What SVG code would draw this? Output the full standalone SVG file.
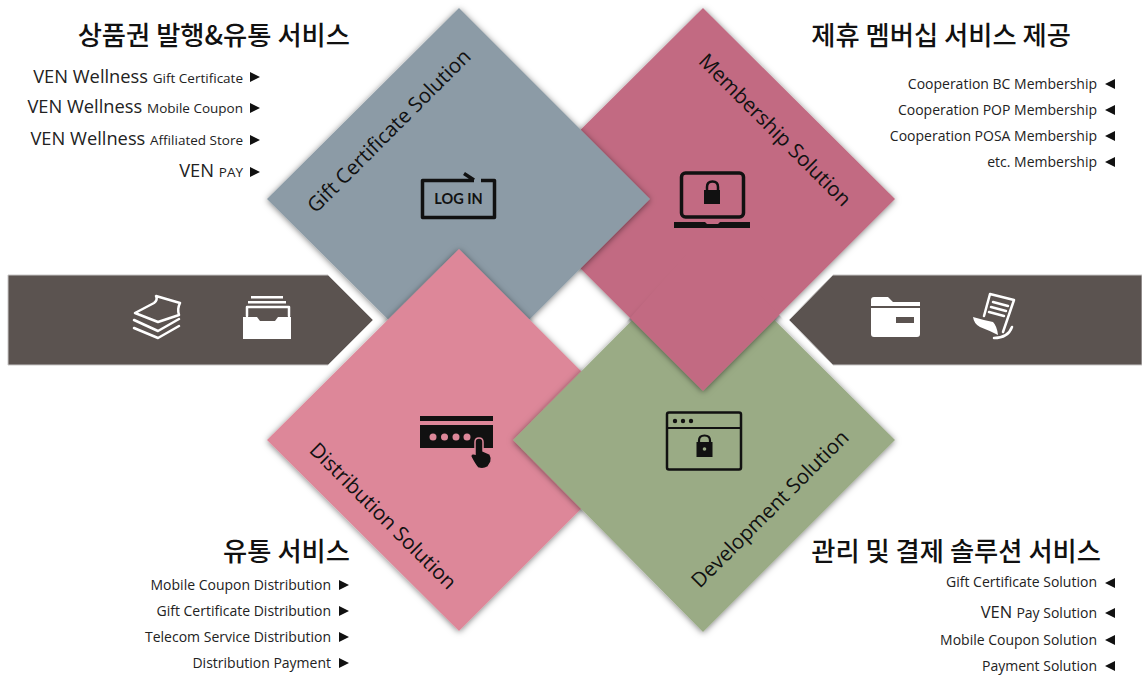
<svg xmlns="http://www.w3.org/2000/svg" width="1142" height="675" viewBox="0 0 1142 675">
<style>
text{font-family:"Open Sans","Noto Sans CJK KR","Noto Sans",sans-serif;fill:#222}
.h{font-family:"Noto Sans CJK KR","Noto Sans",sans-serif;font-size:26.300px;font-weight:500;fill:#111;text-anchor:end}
.l{font-size:14px;text-anchor:end}
.b{font-size:18.300px}
.r{font-size:20.500px;fill:#111;text-anchor:middle}
.bar{fill:#5b5350;stroke:#c9c7c6;stroke-width:1}
.w{fill:#fff}
.ws{fill:none;stroke:#fff;stroke-width:2.500;stroke-linejoin:round;stroke-linecap:round}
.k{fill:none;stroke:#111;stroke-linejoin:round}
.d{filter:url(#sh)}
</style>
<defs>
<filter id="sh" x="-10%" y="-10%" width="120%" height="120%"><feDropShadow dx="0" dy="1" stdDeviation="3" flood-color="#000" flood-opacity=".5"/></filter>
<clipPath id="cc"><polygon points="703,236 808,345 703,450 622,327"/></clipPath>
<polygon id="crim" points="703,8 895,199 703,391 511,199" fill="#c26a82"/>
<polygon id="tri" points="0,-5 10,0 0,5" fill="#111"/>
<polygon id="tl" points="10,-5 0,0 10,5" fill="#111"/>
</defs>
<rect width="1142" height="675" fill="#fff"/>
<g id="bar-left">
<polygon class="bar" points="8,275 328,275 373,320 328,365 8,365"/>
<path class="ws" d="M135,313 L154,303 q4,-3 2,-7 L180,303 q-3,6 -1,12 L158,322 z M134,320 L158,331 L179,319 M134,328 L158,338 L179,326"/>
<path class="w" d="M251,296h32v2.500h-32z M248,301h38v2.500h-38z"/>
<path class="ws" d="M247,316v-9h42v9"/>
<path class="w" d="M243,317h14l3,4h15l3,-4h13v22h-48z"/>
</g>
<g id="bar-right">
<polygon class="bar" points="1142,275 833,275 789,320 833,365 1142,365"/>
<path class="w" d="M871,306v-6q0,-3 3,-3h14l5,5h27v4z M871,308h49v26q0,3 -3,3h-43q-3,0 -3,-3z"/>
<rect x="896" y="317" width="18" height="6" fill="#5b5350"/>
<path class="ws" d="M984,316L990,294L1014,300L1003,332"/>
<path class="ws" stroke-width="1.800" d="M993,302l15,4M991,307l15,4M989,312l15,4"/>
<path class="w" d="M973,317q10,3 20,5q4,4 5,13q-10,-5 -18,-8q-6,-3 -7,-10z"/>
<path class="ws" stroke-width="2" d="M994,338q14,0 18,-11"/>
</g>
<g id="node-membership" class="d"><use href="#crim"/></g>
<g id="node-gift">
<polygon class="d" points="459,8 650,199 459,390 267,199" fill="#8c9ba6"/>
<text class="r" transform="translate(389,131) rotate(-45)" y="7">Gift Certificate Solution</text>
<path class="k" stroke-width="3.500" d="M474,180.500H422.500V217.500H494.500V180.500H481M464,173.500L474,180"/>
<text x="458.500" y="204" text-anchor="middle" style="font-family:Lato,sans-serif;font-size:14.500px;font-weight:700;fill:#111">LOG IN</text>
</g>
<g id="node-distribution">
<polygon class="d" points="459,249 650,440 459,631 267,440" fill="#dd8799"/>
<text class="r" transform="translate(383,516) rotate(45)" y="7">Distribution Solution</text>
<path fill="#111" d="M420,416h73v5h-73z M420,425h73v23h-73z"/>
<g fill="#dd8799"><circle cx="433" cy="437" r="3.500"/><circle cx="444.500" cy="437" r="3.500"/><circle cx="456" cy="437" r="3.500"/><circle cx="467" cy="437" r="3.500"/></g>
<path fill="#111" stroke="#dd8799" stroke-width="1.500" d="M475,442q0,-4 4,-4t4,4v9l7,3q2,3 1,8l-3,5q-5,3 -10,1q-3,-3 -7,-11q-1,-4 4,-3z"/>
</g>
<g id="node-development">
<polygon class="d" points="703,249 895,440 703,632 513,440" fill="#9aab85"/>
<text class="r" transform="translate(770,509) rotate(-45)" y="7">Development Solution</text>
<rect class="k" stroke-width="2.500" x="667" y="412.500" width="74" height="57" rx="2"/>
<path class="k" stroke-width="1.800" d="M667,428H741"/>
<g fill="#111"><circle cx="675" cy="421" r="2.200"/><circle cx="683" cy="421" r="2.200"/><circle cx="691" cy="421" r="2.200"/></g>
<path class="k" stroke-width="2.200" d="M699,443v-2.500q0,-5 5.500,-5t5.500,5v2.500"/>
<rect x="696.500" y="442" width="16" height="15" fill="#111"/>
<circle cx="704.500" cy="449" r="1.800" fill="#9aab85"/>
</g>
<g id="node-membership-front" clip-path="url(#cc)"><use href="#crim" class="d"/></g>
<g id="node-membership-content">
<text class="r" transform="translate(775,130) rotate(45)" y="7">Membership Solution</text>
<rect class="k" stroke-width="3.500" x="681.500" y="173" width="62" height="44" rx="4"/>
<path fill="#111" d="M674,222h31l2,2h11l2,-2h30v6h-76z"/>
<path class="k" stroke-width="2.500" d="M707,191v-4q0,-5.500 5.500,-5.500t5.500,5.500v4"/>
<rect x="704" y="190" width="16" height="14" fill="#111"/>
</g>
<g id="text-gift">
<text class="h" x="350" y="45">상품권 발행&amp;유통 서비스</text>
<text class="l" x="243" y="83"><tspan class="b">VEN Wellness </tspan><tspan font-size="13.500">Gift Certificate</tspan></text>
<text class="l" x="243" y="113"><tspan class="b">VEN Wellness </tspan><tspan font-size="13.500">Mobile Coupon</tspan></text>
<text class="l" x="243" y="145"><tspan class="b">VEN Wellness </tspan><tspan font-size="13.500">Affiliated Store</tspan></text>
<text class="l" x="243" y="177"><tspan class="b">VEN </tspan><tspan font-size="13.500">PAY</tspan></text>
<use href="#tri" x="250" y="77"/><use href="#tri" x="250" y="108"/><use href="#tri" x="250" y="140"/><use href="#tri" x="250" y="172"/>
</g>
<g id="text-membership">
<text class="h" x="1071" y="45">제휴 멤버십 서비스 제공</text>
<text class="l" x="1097" y="89">Cooperation BC Membership</text>
<text class="l" x="1097" y="115">Cooperation POP Membership</text>
<text class="l" x="1097" y="141">Cooperation POSA Membership</text>
<text class="l" x="1097" y="167">etc. Membership</text>
<use href="#tl" x="1105" y="84"/><use href="#tl" x="1105" y="110"/><use href="#tl" x="1105" y="136"/><use href="#tl" x="1105" y="162"/>
</g>
<g id="text-distribution">
<text class="h" x="350" y="561">유통 서비스</text>
<text class="l" x="331" y="590">Mobile Coupon Distribution</text>
<text class="l" x="331" y="616">Gift Certificate Distribution</text>
<text class="l" x="331" y="642">Telecom Service Distribution</text>
<text class="l" x="331" y="668">Distribution Payment</text>
<use href="#tri" x="339" y="585"/><use href="#tri" x="339" y="611"/><use href="#tri" x="339" y="637"/><use href="#tri" x="339" y="663"/>
</g>
<g id="text-development">
<text class="h" x="1101" y="561">관리 및 결제 솔루션 서비스</text>
<text class="l" x="1097" y="587">Gift Certificate Solution</text>
<text class="l" x="1097" y="618"><tspan font-size="16.500">VEN </tspan>Pay Solution</text>
<text class="l" x="1097" y="645">Mobile Coupon Solution</text>
<text class="l" x="1097" y="671">Payment Solution</text>
<use href="#tl" x="1105" y="583"/><use href="#tl" x="1105" y="613"/><use href="#tl" x="1105" y="640"/><use href="#tl" x="1105" y="666"/>
</g>
</svg>
